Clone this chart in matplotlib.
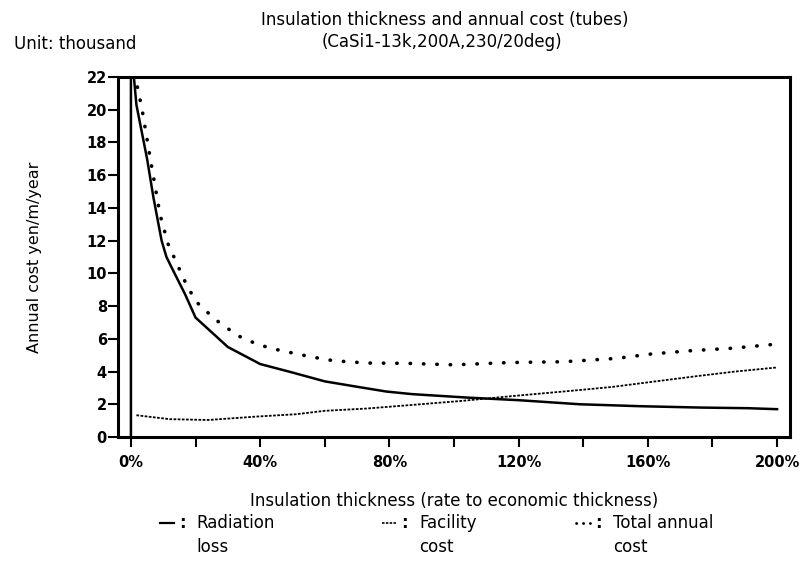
import matplotlib
matplotlib.use("Agg")
import matplotlib.pyplot as plt
from matplotlib.lines import Line2D

plt.rcParams["font.family"] = ["DejaVu Sans"]

# ── Data ──
rad_x = [0, 0, 1.7, 5, 7, 9.5, 11, 13, 16.7, 20, 30, 40, 50, 60, 70, 79, 87,
         104, 120, 139, 158, 176, 191, 200]
rad_y = [0, 24, 20.3, 17.0, 14.6, 12.0, 11.0, 10.2, 8.75, 7.3, 5.5, 4.46, 3.94,
         3.4, 3.07, 2.78, 2.62, 2.41, 2.25, 2.0, 1.88, 1.8, 1.76, 1.7]

fac_x = [1.7, 12, 24, 39, 51, 60, 73, 87, 102, 118, 135, 149, 162, 176, 187, 200]
fac_y = [1.33, 1.09, 1.04, 1.25, 1.39, 1.6, 1.74, 1.96, 2.2, 2.5, 2.8, 3.06,
         3.39, 3.74, 4.0, 4.25]

tot_x = [0.6, 1.9, 2.5, 3.3, 6, 9, 11.5, 16.5, 20, 26, 33, 39.4, 46, 55.7, 62.8,
         73, 85.7, 100, 117, 134, 150, 161, 173, 186.5, 200]
tot_y = [23, 21.5, 20.9, 20.2, 17.0, 13.6, 11.8, 9.6, 8.3, 7.2, 6.2, 5.64, 5.3,
         4.9, 4.66, 4.52, 4.5, 4.41, 4.55, 4.6, 4.8, 5.07, 5.27, 5.43, 5.68]

xticks = [0, 40, 80, 120, 160, 200]
xtick_labels = ["0%", "40%", "80%", "120%", "160%", "200%"]
xminor = [20, 60, 100, 140, 180]
yticks = list(range(0, 23, 2))

fig = plt.figure(figsize=(8.0, 5.63), dpi=100)
ax = fig.add_axes([0.1475, 0.2238, 0.84, 0.6394])

ax.plot(rad_x, rad_y, color="black", lw=1.8, solid_joinstyle="round")
ax.plot(fac_x, fac_y, color="black", lw=1.3, linestyle=(0, (1.5, 0.8)))
ax.plot(tot_x, tot_y, color="black", lw=2.6, linestyle=(0, (0.1, 3.6)),
        dash_capstyle="round")

ax.set_xlim(-4, 204)
ax.set_ylim(0, 22)
ax.set_xticks(xticks)
ax.set_xticklabels(xtick_labels, fontsize=10.5, fontweight="bold")
ax.set_xticks(xminor, minor=True)
ax.set_yticks(yticks)
ax.set_yticklabels([str(v) for v in yticks], fontsize=10.5, fontweight="bold")
ax.tick_params(axis="x", which="both", direction="out", length=7, width=1.5, pad=6)
ax.tick_params(axis="y", direction="out", length=7, width=1.5, pad=1)
for s in ax.spines.values():
    s.set_linewidth(2.2)

ax.set_ylabel("Annual cost yen/m/year", fontsize=11.5, labelpad=32)
ax.set_xlabel("Insulation thickness (rate to economic thickness)", fontsize=12,
              labelpad=16)

fig.text(0.556, 0.965, "Insulation thickness and annual cost (tubes)",
         ha="center", va="center", fontsize=12)
fig.text(0.552, 0.925, "(CaSi1-13k,200A,230/20deg)", ha="center", va="center",
         fontsize=12)
fig.text(0.018, 0.922, "Unit: thousand", ha="left", va="center", fontsize=12)

# ── Legend (line sample, colon, two-line label) ──
legend_items = [
    (0.200, dict(lw=1.6, linestyle="-"), "Radiation", "loss"),
    (0.478, dict(lw=1.2, linestyle=(0, (1.5, 0.8))), "Facility", "cost"),
    (0.720, dict(lw=2.0, linestyle=(0, (0.1, 2.4)), dash_capstyle="round"),
     "Total annual", "cost"),
]
y1 = 1 - 523 / 563
y2 = 1 - 547 / 563
for x0, style, line1, line2 in legend_items:
    fig.add_artist(Line2D([x0, x0 + 0.017], [y1, y1], color="black",
                          transform=fig.transFigure, **style))
    fig.text(x0 + 0.028, y1, ":", ha="center", va="center", fontsize=12,
             fontweight="bold")
    fig.text(x0 + 0.046, y1, line1, ha="left", va="center", fontsize=12)
    fig.text(x0 + 0.046, y2, line2, ha="left", va="center", fontsize=12)

fig.savefig("out.png", dpi=100, facecolor="white")
